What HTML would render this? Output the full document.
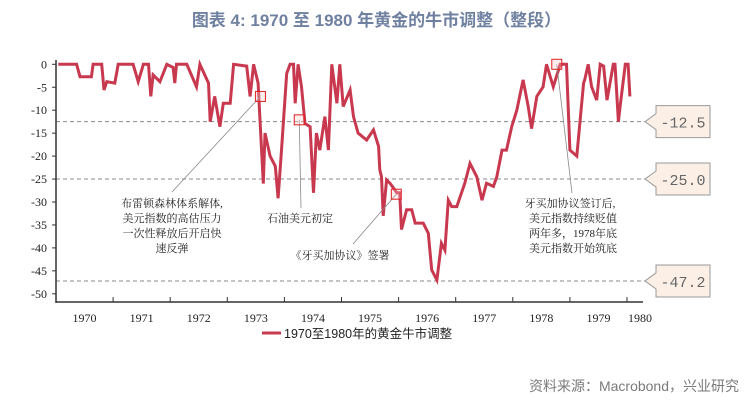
<!DOCTYPE html>
<html><head><meta charset="utf-8">
<style>
body{margin:0;background:#fff;width:753px;height:409px;overflow:hidden;font-family:"Liberation Sans","Noto Sans CJK SC",sans-serif;}
#title{position:absolute;left:0;width:753px;top:6px;text-align:center;font-size:17px;font-weight:bold;color:#6f80a0;}
#src{position:absolute;right:14px;top:376px;font-size:14px;color:#7a7a7a;}
svg{position:absolute;left:0;top:0;}
</style></head>
<body>
<div id="title">图表 4:  1970 至 1980 年黄金的牛市调整（整段）</div>
<svg id="chart" width="753" height="409"></svg>
<div id="src">资料来源：Macrobond，兴业研究</div>
<script>
const years=[1970.04,1970.36,1970.42,1970.62,1970.65,1970.80,1970.84,1970.89,1971.03,1971.09,1971.35,1971.44,1971.53,1971.62,1971.66,1971.70,1971.82,1971.94,1972.05,1972.08,1972.11,1972.29,1972.46,1972.52,1972.67,1972.70,1972.78,1972.87,1972.93,1973.05,1973.11,1973.34,1973.40,1973.46,1973.54,1973.63,1973.66,1973.75,1973.84,1973.89,1973.95,1974.04,1974.10,1974.16,1974.19,1974.24,1974.30,1974.36,1974.45,1974.51,1974.56,1974.62,1974.71,1974.77,1974.83,1974.92,1974.97,1975.03,1975.15,1975.21,1975.29,1975.44,1975.56,1975.65,1975.67,1975.70,1975.73,1975.79,1975.85,1975.97,1976.02,1976.05,1976.14,1976.23,1976.29,1976.43,1976.52,1976.58,1976.67,1976.75,1976.81,1976.87,1976.93,1977.02,1977.16,1977.25,1977.37,1977.46,1977.54,1977.66,1977.72,1977.81,1977.89,1977.98,1978.07,1978.18,1978.27,1978.33,1978.42,1978.53,1978.59,1978.71,1978.83,1978.89,1978.94,1979.00,1979.12,1979.18,1979.24,1979.26,1979.32,1979.38,1979.47,1979.53,1979.59,1979.65,1979.76,1979.79,1979.85,1979.88,1979.97,1980.02,1980.05];
const values=[0,0,-2.7,-2.7,0,0,-5.6,-3.8,-4.1,0,0,-3.8,0,0,-7,-2.3,-3.8,0,-0.7,-4.1,0,0,-4.9,0,-4.1,-12.5,-7,-13.6,-8.5,-8.5,0,-0.4,-7,0,-4.1,-26,-15,-20,-22.2,-29.2,-18.7,-2,0,0,-8.5,0,-4.9,-12.9,-13.6,-28,-15,-18.7,-11.4,-18.7,0,-8.5,0,-9.2,-5.6,-11.4,-15,-16.5,-14.3,-17.9,-23,-24.5,-33,-25.2,-25.9,-28,-28,-36,-31.7,-31.7,-34.6,-34.6,-36.8,-44.8,-47,-39,-40.5,-29.6,-31,-31,-25.9,-21.6,-24.5,-29.6,-25.9,-26.6,-24.5,-18.7,-18.7,-13.6,-10,-3.4,-9.2,-14,-7,-4.9,0,-4.9,0,0,0,-18.7,-20,-12,-4.1,-3.4,0,-4.9,-7.8,0,-0.4,-7.8,0,0,-12.5,-9.2,0,0,-7,0];
const yTicks=[0,-5,-10,-15,-20,-25,-30,-35,-40,-45,-50];
const xLabels=["1970","1971","1972","1973","1974","1975","1976","1977","1978","1979","1980"];
const refLines=[-12.5,-25.0,-47.2];
const markers=[[1973.58,-7.0],[1974.26,-12.1],[1975.96,-28.3],[1978.77,0]];

const NS="http://www.w3.org/2000/svg";
const svg=document.getElementById('chart');
const X=y=>56+(y-1970)*57.1;
const Y=v=>64.3-v*4.59;
function mk(t,a,p){const e=document.createElementNS(NS,t);for(const k in a)e.setAttribute(k,a[k]);(p||svg).appendChild(e);return e;}

refLines.forEach(v=>{
  const l=mk('line',{x1:56,x2:645,y1:Y(v),y2:Y(v),stroke:'#8a8a8a','stroke-width':1,'stroke-dasharray':'4,3'});
  
  
  const y=Y(v);
  const b=mk('path',{d:`M645,${y} L656,${y-8} L656,${y-16} L710,${y-16} L710,${y+16} L656,${y+16} L656,${y+8} Z`,fill:'#fbefe6',stroke:'#9a9a9a','stroke-width':1});
  
  
  const t=mk('text',{x:683,y:y+6,'text-anchor':'middle','font-size':15,fill:'#666','font-family':'"Liberation Mono",monospace'});
  t.textContent=v.toFixed(1);
  
  
});

mk('line',{x1:56,x2:56,y1:60,y2:303,stroke:'#333','stroke-width':1.5});
mk('line',{x1:56,x2:643,y1:302,y2:302,stroke:'#333','stroke-width':1.5});
yTicks.forEach(v=>{
  mk('line',{x1:52,x2:56,y1:Y(v),y2:Y(v),stroke:'#333'});
  const t=mk('text',{x:47,y:Y(v)+4,'text-anchor':'end','font-size':12,fill:'#222','font-family':'"Liberation Serif",serif'});
  t.textContent=v;
  
  
});
xLabels.forEach((s,i)=>{
  if(i>0) mk('line',{x1:X(1970+i),x2:X(1970+i),y1:297,y2:302,stroke:'#333'});
  const cx=i<10?X(1970.5+i):640;
  const t=mk('text',{x:cx,y:322,'text-anchor':'middle','font-size':12,fill:'#222','font-family':'"Liberation Serif",serif'});
  t.textContent=s;
  
  
});

let d='';
years.forEach((yr,i)=>{d+=(i?'L':'M')+X(yr).toFixed(1)+','+Y(values[i]).toFixed(1);});
const p=mk('path',{d:d,fill:'none',stroke:'#c8394f','stroke-width':3,'stroke-linejoin':'miter'});



const ann=[[0,172,192],[1,301,208],[2,353,244],[3,572,193]];
ann.forEach(a=>{
  const m=markers[a[0]];
  mk('line',{x1:X(m[0]),y1:Y(m[1]),x2:a[1],y2:a[2],stroke:'#888','stroke-width':0.8});
});
markers.forEach(m=>{
  const r=mk('rect',{x:X(m[0])-5,y:Y(m[1])-5,width:10,height:10,fill:'rgba(255,200,200,0.3)',stroke:'#e02020','stroke-width':1});
  
  
});
const notes=[
 [{x:172,y:207,t:'布雷顿森林体系解体,'},{x:172,y:222,t:'美元指数的高估压力'},{x:172,y:237,t:'一次性释放后开启快'},{x:172,y:252,t:'速反弹'}],
 [{x:300,y:222,t:'石油美元初定'}],
 [{x:340,y:259,t:'《牙买加协议》签署'}],
 [{x:570,y:207,t:'牙买加协议签订后,'},{x:573,y:222,t:'美元指数持续贬值'},{x:573,y:237,t:'两年多，1978年底'},{x:573,y:252,t:'美元指数开始筑底'}]
];
notes.forEach(g=>g.forEach(n=>{
  const t=mk('text',{x:n.x,y:n.y,'text-anchor':'middle','font-size':11,fill:'#222','font-family':'"Liberation Serif","Noto Serif CJK SC",serif'});
  t.textContent=n.t;
  
  
}));

mk('line',{x1:262,x2:281,y1:333,y2:333,stroke:'#c8394f','stroke-width':3});
const lt=mk('text',{x:284,y:338,'font-size':12.5,fill:'#222','font-family':'"Liberation Sans","Noto Sans CJK SC",sans-serif'});
lt.textContent='1970至1980年的黄金牛市调整';


</script>
</body></html>
